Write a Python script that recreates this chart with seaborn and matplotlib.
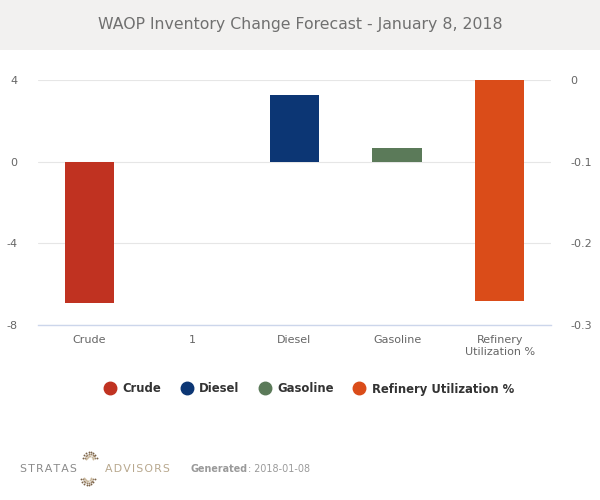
import matplotlib
matplotlib.use("Agg")
import matplotlib.pyplot as plt
from matplotlib.lines import Line2D
import numpy as np
import pandas as pd
import seaborn as sns

categories = ["Crude", "1", "Diesel", "Gasoline", "Refinery\nUtilization %"]
left_series = ["Crude", "Diesel", "Gasoline"]
left_values = [-6.9, 3.27, 0.67]
right_series = ["Refinery Utilization %"]
right_values = [-0.27]
left_ticks = [-8, -4, 0, 4]
right_ticks = [-0.3, -0.2, -0.1, 0]
colors = {"Crude": "#c03221", "Diesel": "#0c3674", "Gasoline": "#5b7a59",
          "Refinery Utilization %": "#da4c19"}
title = "WAOP Inventory Change Forecast - January 8, 2018"

sns.set_theme(style="white")
plt.rcParams["font.family"] = ["DejaVu Sans"]

fig = plt.figure(figsize=(6, 5), dpi=100)
fig.patch.set_facecolor("white")

# title band
fig.patches.append(plt.Rectangle((0, 0.9), 1, 0.1, transform=fig.transFigure,
                                 facecolor="#f2f1f0", edgecolor="none", zorder=0))
fig.text(0.5, 0.952, title, ha="center", va="center", fontsize=11.3, color="#707070")

ax = fig.add_axes([0.0633, 0.35, 0.855, 0.49])
ax2 = ax.twinx()

df_left = pd.DataFrame({"cat": ["Crude", "Diesel", "Gasoline"],
                        "series": left_series, "value": left_values})
df_right = pd.DataFrame({"cat": ["Refinery\nUtilization %"],
                         "series": right_series, "value": right_values})

sns.barplot(data=df_left, x="cat", y="value", hue="series", order=categories,
            hue_order=left_series, palette=colors, dodge=False, width=0.48,
            saturation=1, ax=ax, legend=False, linewidth=0)
sns.barplot(data=df_right, x="cat", y="value", hue="series", order=categories,
            hue_order=right_series, palette=colors, dodge=False, width=0.48,
            saturation=1, ax=ax2, legend=False, linewidth=0)

ax.set_xlim(-0.5, 4.5)
ax.set_ylim(-8, 4)
ax2.set_ylim(-0.3, 0)
ax.set_yticks(left_ticks)
ax.set_yticklabels([str(t) for t in left_ticks])
ax2.set_yticks(right_ticks)
ax2.set_yticklabels(["-0.3", "-0.2", "-0.1", "0"])

for a in (ax, ax2):
    for s in a.spines.values():
        s.set_visible(False)
    a.set_xlabel("")
    a.set_ylabel("")
    a.tick_params(axis="y", length=0, labelsize=8, labelcolor="#666666")

ax.tick_params(axis="y", pad=15)
ax2.tick_params(axis="y", pad=14)
ax.set_axisbelow(True)
ax.yaxis.grid(True, color="#e6e6e6", linewidth=0.8)
ax.spines["bottom"].set_visible(True)
ax.spines["bottom"].set_color("#ccd6eb")
ax.spines["bottom"].set_linewidth(1)

ax.set_xticks(range(len(categories)))
ax.set_xticklabels(categories, fontsize=8, color="#666666", linespacing=1.3)
ax.tick_params(axis="x", length=0, pad=7)
ax.set_xticks(np.arange(-0.5, 4.6, 1), minor=True)
ax.tick_params(axis="x", which="minor", length=10, color="#ccd6eb", width=1)

handles = [Line2D([], [], marker="o", linestyle="none", markersize=9,
                  markerfacecolor=colors[s], markeredgecolor=colors[s])
           for s in left_series + right_series]
fig.legend(handles, left_series + right_series, loc="center",
           bbox_to_anchor=(0.51, 0.222), ncol=4, frameon=False,
           prop={"weight": "bold", "size": 8.4}, handletextpad=0.05,
           columnspacing=1.2, labelcolor="#333333")

# footer
fig.text(0.033, 0.061, "S\u200aT\u200aR\u200aA\u200aT\u200aA\u200aS", fontsize=7.9,
         color="#8a8a8a", va="center")
fig.text(0.175, 0.061, "A\u200aD\u200aV\u200aI\u200aS\u200aO\u200aR\u200aS", fontsize=7.9,
         color="#b8a88e", va="center")
lax = fig.add_axes([0.133, 0.028, 0.03, 0.07])
lax.axis("off")
th = np.linspace(0.35, 2.8, 8)
for r, c in ((0.55, "#c9b89c"), (0.8, "#9a8266"), (1.05, "#7a6248")):
    lax.scatter(r * np.cos(th) + 0.15, r * np.sin(th) * 1.0 + 0.95, s=1.8, color=c,
                linewidths=0)
    lax.scatter(-r * np.cos(th) - 0.15, -r * np.sin(th) * 1.0 - 0.95, s=1.8, color=c,
                linewidths=0)
lax.set_xlim(-1.3, 1.3)
lax.set_ylim(-2.1, 2.1)
gen = fig.text(0.317, 0.061, "Generated", fontsize=6.9, color="#9a9a9a",
               weight="bold", va="center")
fig.canvas.draw()
bb = gen.get_window_extent(renderer=fig.canvas.get_renderer())
fig.text(bb.x1 / fig.bbox.width + 0.001, 0.061, ": 2018-01-08", fontsize=6.9,
         color="#9a9a9a", va="center")

fig.savefig("out.png", dpi=100)
